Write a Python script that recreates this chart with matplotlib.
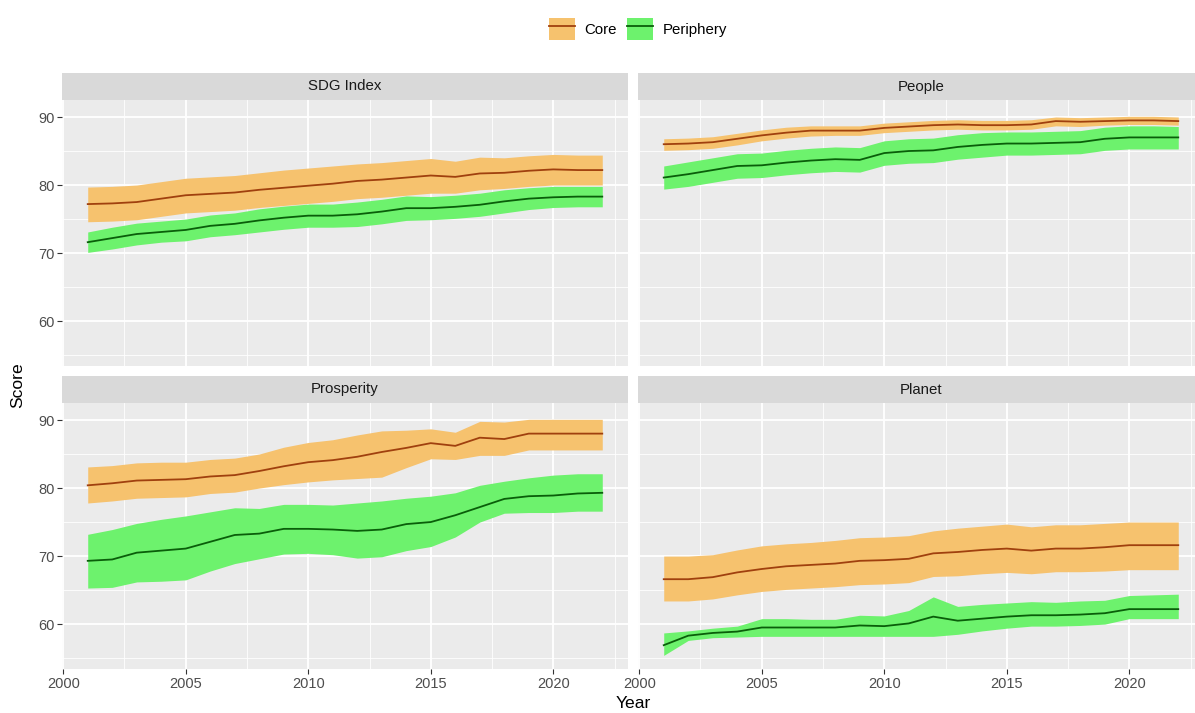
import matplotlib.pyplot as plt
from matplotlib.patches import Patch
from matplotlib.lines import Line2D
from matplotlib.ticker import MultipleLocator

plt.rcParams['font.family'] = ['Liberation Sans', 'DejaVu Sans']

years = list(range(2001, 2023))

# SDG Index
sdg_core = [77.2, 77.3, 77.5, 78.0, 78.5, 78.7, 78.9, 79.3, 79.6, 79.9, 80.2, 80.6, 80.8, 81.1, 81.4, 81.2, 81.7, 81.8, 82.1, 82.3, 82.2, 82.2]
sdg_core_lo = [74.6, 74.7, 74.9, 75.4, 75.9, 76.1, 76.3, 76.7, 77.0, 77.3, 77.6, 78.0, 78.2, 78.5, 78.8, 78.8, 79.3, 79.5, 79.8, 80.0, 80.0, 80.0]
sdg_core_hi = [79.7, 79.8, 80.0, 80.5, 81.0, 81.2, 81.4, 81.8, 82.2, 82.5, 82.8, 83.1, 83.3, 83.6, 83.9, 83.5, 84.1, 84.0, 84.3, 84.5, 84.4, 84.4]
sdg_peri = [71.6, 72.2, 72.8, 73.1, 73.4, 74.0, 74.3, 74.8, 75.2, 75.5, 75.5, 75.7, 76.1, 76.6, 76.6, 76.8, 77.1, 77.6, 78.0, 78.2, 78.3, 78.3]
sdg_peri_lo = [70.1, 70.6, 71.2, 71.6, 71.8, 72.4, 72.7, 73.1, 73.5, 73.8, 73.8, 73.9, 74.3, 74.8, 74.9, 75.1, 75.4, 75.9, 76.4, 76.7, 76.8, 76.8]
sdg_peri_hi = [73.1, 73.8, 74.4, 74.7, 75.0, 75.6, 75.9, 76.5, 76.9, 77.2, 77.2, 77.5, 77.9, 78.4, 78.3, 78.5, 78.8, 79.3, 79.6, 79.8, 79.8, 79.8]

# People
people_core = [86.0, 86.1, 86.3, 86.8, 87.3, 87.7, 88.0, 88.0, 88.0, 88.4, 88.6, 88.8, 88.9, 88.8, 88.8, 88.9, 89.4, 89.3, 89.4, 89.5, 89.5, 89.4]
people_core_lo = [85.1, 85.2, 85.4, 85.9, 86.5, 86.9, 87.2, 87.3, 87.3, 87.7, 87.9, 88.1, 88.2, 88.1, 88.1, 88.2, 88.7, 88.6, 88.8, 88.9, 88.9, 88.8]
people_core_hi = [86.8, 86.9, 87.1, 87.6, 88.1, 88.5, 88.7, 88.7, 88.7, 89.1, 89.3, 89.5, 89.6, 89.5, 89.5, 89.6, 90.0, 89.9, 90.0, 90.1, 90.1, 90.0]
people_peri = [81.1, 81.6, 82.2, 82.8, 82.9, 83.3, 83.6, 83.8, 83.7, 84.7, 85.0, 85.1, 85.6, 85.9, 86.1, 86.1, 86.2, 86.3, 86.8, 87.0, 87.0, 87.0]
people_peri_lo = [79.4, 79.8, 80.4, 81.0, 81.1, 81.5, 81.8, 82.0, 81.9, 82.9, 83.2, 83.3, 83.8, 84.1, 84.4, 84.4, 84.5, 84.6, 85.1, 85.3, 85.3, 85.3]
people_peri_hi = [82.8, 83.4, 84.0, 84.6, 84.7, 85.1, 85.4, 85.6, 85.5, 86.5, 86.8, 86.9, 87.4, 87.7, 87.8, 87.8, 87.9, 88.0, 88.5, 88.7, 88.7, 88.6]

# Prosperity
prosp_core = [80.4, 80.7, 81.1, 81.2, 81.3, 81.7, 81.9, 82.5, 83.2, 83.8, 84.1, 84.6, 85.3, 85.9, 86.6, 86.2, 87.4, 87.2, 88.0, 88.0, 88.0, 88.0]
prosp_core_lo = [77.8, 78.1, 78.5, 78.6, 78.7, 79.2, 79.4, 80.0, 80.5, 80.9, 81.2, 81.4, 81.6, 83.0, 84.3, 84.2, 84.8, 84.8, 85.6, 85.6, 85.6, 85.6]
prosp_core_hi = [83.1, 83.3, 83.7, 83.8, 83.8, 84.2, 84.4, 85.0, 86.0, 86.7, 87.1, 87.8, 88.4, 88.5, 88.7, 88.2, 89.8, 89.7, 90.1, 90.1, 90.1, 90.1]
prosp_peri = [69.3, 69.5, 70.5, 70.8, 71.1, 72.1, 73.1, 73.3, 74.0, 74.0, 73.9, 73.7, 73.9, 74.7, 75.0, 76.0, 77.2, 78.4, 78.8, 78.9, 79.2, 79.3]
prosp_peri_lo = [65.3, 65.4, 66.2, 66.3, 66.5, 67.8, 68.9, 69.6, 70.3, 70.4, 70.2, 69.7, 69.9, 70.8, 71.4, 72.8, 75.0, 76.3, 76.4, 76.4, 76.6, 76.6]
prosp_peri_hi = [73.2, 73.9, 74.8, 75.4, 75.9, 76.5, 77.1, 77.0, 77.6, 77.6, 77.5, 77.8, 78.1, 78.5, 78.8, 79.3, 80.4, 81.0, 81.5, 81.9, 82.1, 82.1]

# Planet
planet_core = [66.6, 66.6, 66.9, 67.6, 68.1, 68.5, 68.7, 68.9, 69.3, 69.4, 69.6, 70.4, 70.6, 70.9, 71.1, 70.8, 71.1, 71.1, 71.3, 71.6, 71.6, 71.6]
planet_core_lo = [63.4, 63.4, 63.7, 64.3, 64.8, 65.1, 65.3, 65.5, 65.8, 65.9, 66.1, 67.0, 67.1, 67.4, 67.6, 67.4, 67.7, 67.7, 67.8, 68.0, 68.0, 68.0]
planet_core_hi = [70.0, 70.0, 70.2, 70.9, 71.5, 71.8, 72.0, 72.3, 72.7, 72.8, 73.0, 73.7, 74.1, 74.4, 74.7, 74.3, 74.6, 74.6, 74.8, 75.0, 75.0, 75.0]
planet_peri = [56.9, 58.3, 58.7, 58.9, 59.5, 59.5, 59.5, 59.5, 59.8, 59.7, 60.1, 61.1, 60.5, 60.8, 61.1, 61.3, 61.3, 61.4, 61.6, 62.2, 62.2, 62.2]
planet_peri_lo = [55.4, 57.6, 58.0, 58.1, 58.2, 58.2, 58.2, 58.2, 58.2, 58.2, 58.2, 58.2, 58.5, 59.0, 59.4, 59.7, 59.7, 59.8, 60.0, 60.8, 60.8, 60.8]
planet_peri_hi = [58.7, 59.0, 59.4, 59.7, 60.8, 60.8, 60.7, 60.7, 61.3, 61.2, 62.0, 64.0, 62.6, 62.9, 63.1, 63.3, 63.2, 63.4, 63.5, 64.2, 64.3, 64.4]

panels = [
    ("SDG Index", sdg_core, sdg_core_lo, sdg_core_hi, sdg_peri, sdg_peri_lo, sdg_peri_hi),
    ("People", people_core, people_core_lo, people_core_hi, people_peri, people_peri_lo, people_peri_hi),
    ("Prosperity", prosp_core, prosp_core_lo, prosp_core_hi, prosp_peri, prosp_peri_lo, prosp_peri_hi),
    ("Planet", planet_core, planet_core_lo, planet_core_hi, planet_peri, planet_peri_lo, planet_peri_hi),
]

core_fill = '#F6C26E'
core_line = '#A0400E'
peri_fill = '#6DF26D'
peri_line = '#0A5E0A'

W, H = 1195, 713
fig = plt.figure(figsize=(W / 100, H / 100), dpi=100)
fig.patch.set_facecolor('white')

# panel boxes in pixels: left, top
lefts = [62, 638, 62, 638]
tops = [100, 100, 403, 403]
pw, ph, sh = 566, 266, 27

for i, (name, c, clo, chi, p, plo, phi) in enumerate(panels):
    l, t = lefts[i], tops[i]
    ax = fig.add_axes([l / W, (H - t - ph) / H, pw / W, ph / H])
    ax.set_facecolor('#EBEBEB')
    ax.fill_between(years, clo, chi, color=core_fill, lw=0, zorder=2)
    ax.fill_between(years, plo, phi, color=peri_fill, lw=0, zorder=2)
    ax.plot(years, c, color=core_line, lw=1.3, zorder=3)
    ax.plot(years, p, color=peri_line, lw=1.3, zorder=3)
    ax.set_xlim(1999.95, 2023.05)
    ax.set_ylim(53.4, 92.5)
    ax.xaxis.set_major_locator(MultipleLocator(5))
    ax.xaxis.set_minor_locator(MultipleLocator(2.5))
    ax.yaxis.set_major_locator(MultipleLocator(10))
    ax.yaxis.set_minor_locator(MultipleLocator(5))
    ax.grid(which='major', color='white', lw=1.3, zorder=1)
    ax.grid(which='minor', color='white', lw=0.6, zorder=1)
    ax.set_axisbelow(True)
    for s in ax.spines.values():
        s.set_visible(False)
    ax.tick_params(which='minor', length=0)
    ax.tick_params(which='major', length=3.5, width=0.8, color='#333333',
                   labelsize=10.5, labelcolor='#4D4D4D', pad=2)
    if i % 2 == 1:
        ax.tick_params(axis='y', left=False, labelleft=False)
    if i < 2:
        ax.tick_params(axis='x', bottom=False, labelbottom=False)

    # strip
    sax = fig.add_axes([l / W, (H - t) / H, pw / W, sh / H])
    sax.set_facecolor('#D9D9D9')
    sax.set_xticks([])
    sax.set_yticks([])
    for s in sax.spines.values():
        s.set_visible(False)
    sax.text(0.5, 0.5, name, transform=sax.transAxes, ha='center', va='center',
             fontsize=10.8, color='#1A1A1A')

fig.text(18 / W, 1 - 385 / H, 'Score', rotation=90, ha='center', va='center',
         fontsize=12.6, color='black')
fig.text(633 / W, 1 - 704 / H, 'Year', ha='center', va='center',
         fontsize=12.6, color='black')

handles = [
    (Patch(facecolor=core_fill, edgecolor='none'), Line2D([], [], color=core_line, lw=1.3)),
    (Patch(facecolor=peri_fill, edgecolor='none'), Line2D([], [], color=peri_line, lw=1.3)),
]
fig.legend(handles, ['Core', 'Periphery'], loc='center', bbox_to_anchor=(638 / W, 1 - 29 / H),
           ncol=2, frameon=False, fontsize=10.8, handlelength=1.75, handleheight=1.8,
           handletextpad=0.65, columnspacing=0.65)

plt.savefig('out.png', dpi=100)
